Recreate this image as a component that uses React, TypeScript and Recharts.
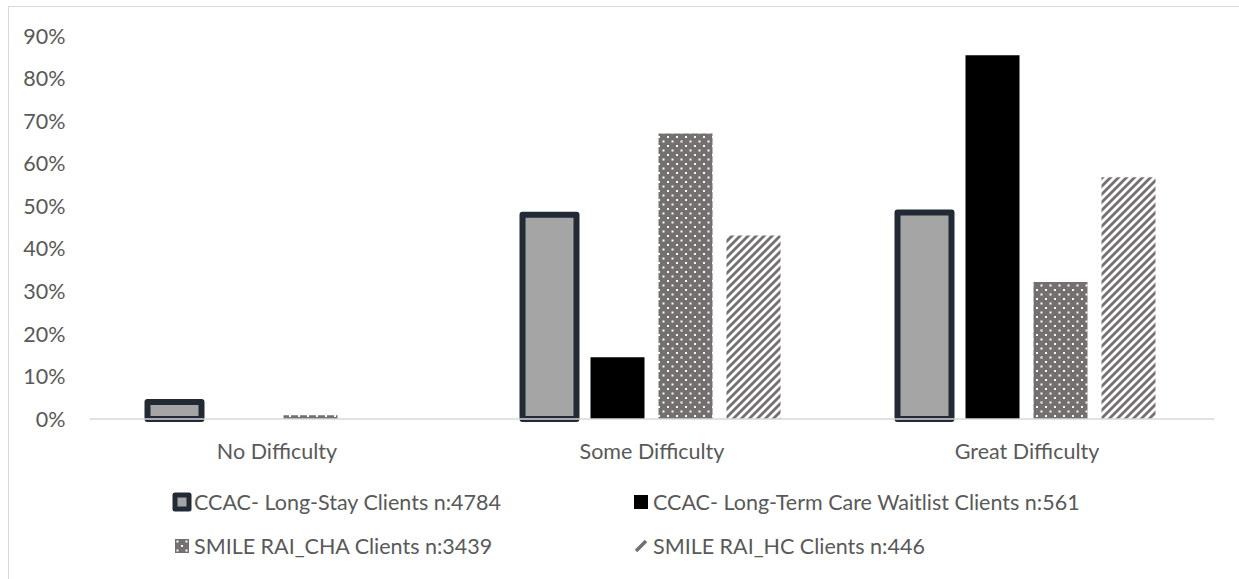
import React from 'react';
import { BarChart, Bar, XAxis, YAxis, Legend } from 'recharts';

const categories = ['No Difficulty', 'Some Difficulty', 'Great Difficulty'];
const longStay = [4.0, 48.0, 48.5];
const ltcWaitlist = [0, 14.5, 85.5];
const smileCha = [0.9, 67.1, 32.2];
const smileHc = [0, 43.1, 56.8];
const seriesKeys = ['longStay', 'ltcWaitlist', 'smileCha', 'smileHc'];
const seriesNames = [
  'CCAC- Long-Stay Clients n:4784',
  'CCAC- Long-Term Care Waitlist Clients n:561',
  'SMILE RAI_CHA Clients n:3439',
  'SMILE RAI_HC Clients n:446',
];
const yTicks = [0, 10, 20, 30, 40, 50, 60, 70, 80, 90];

const data = categories.map((c, i) => ({
  category: c,
  longStay: longStay[i],
  ltcWaitlist: ltcWaitlist[i],
  smileCha: smileCha[i],
  smileHc: smileHc[i],
}));

const FONT = 'Lato, "Open Sans", sans-serif';
const TEXT = '#595959';
const FS = 21.5;

function Patterns({ prefix }: { prefix: string }) {
  return (
    <defs>
      <pattern id={`${prefix}dots`} patternUnits="userSpaceOnUse" width="9" height="9">
        <rect x="0" y="0" width="9" height="9" fill="#757070" />
        <rect x="1" y="1" width="2" height="2" fill="#ffffff" />
        <rect x="5.5" y="5.5" width="2" height="2" fill="#ffffff" />
      </pattern>
      <pattern id={`${prefix}stripes`} patternUnits="userSpaceOnUse" width="8" height="8">
        <rect x="0" y="0" width="8" height="8" fill="#ffffff" />
        <path d="M-2,2 L2,-2 M0,8 L8,0 M6,10 L10,6" stroke="#757070" strokeWidth="2.8" />
      </pattern>
    </defs>
  );
}

function LegendIcon({ idx }: { idx: number }) {
  if (idx === 0) {
    return (
      <svg width="22" height="22" style={{ display: 'block' }}>
        <rect x="4" y="4" width="14" height="14" fill="#a5a5a5" stroke="#222a35" strokeWidth="5" strokeLinejoin="round" />
      </svg>
    );
  }
  if (idx === 1) {
    return (
      <svg width="22" height="22" style={{ display: 'block' }}>
        <rect x="4" y="4" width="14" height="14" fill="#000000" />
      </svg>
    );
  }
  if (idx === 2) {
    return (
      <svg width="22" height="22" style={{ display: 'block' }}>
        <Patterns prefix="lg" />
        <rect x="4" y="4" width="14" height="14" fill="url(#lgdots)" />
      </svg>
    );
  }
  return (
    <svg width="22" height="22" style={{ display: 'block' }}>
      <path d="M6,16 L16,6" stroke="#757070" strokeWidth="3.5" />
    </svg>
  );
}

function LegendContent() {
  const cols = [171, 630];
  const rows = [0, 44];
  return (
    <div style={{ position: 'relative', width: 1239, height: 80, fontFamily: FONT, fontSize: FS, color: TEXT }}>
      {seriesNames.map((name, i) => (
        <div
          key={name}
          style={{
            position: 'absolute',
            left: cols[i % 2],
            top: rows[Math.floor(i / 2)],
            display: 'flex',
            alignItems: 'center',
            height: 30,
            whiteSpace: 'nowrap',
          }}
        >
          <LegendIcon idx={i} />
          <span style={{ marginLeft: 1 }}>{name}</span>
        </div>
      ))}
    </div>
  );
}

export default function App() {
  return (
    <div style={{ position: 'absolute', left: 0, top: 0, width: 1239, height: 579, overflow: 'hidden', background: '#fff' }}>
      <div style={{ position: 'absolute', left: 8, top: 6, width: 1400, height: 800, border: '1px solid #d9d9d9', boxSizing: 'border-box' }} />
      <div style={{ position: 'absolute', left: 0, top: 0 }}>
        <BarChart
          width={1239}
          height={579}
          data={data}
          margin={{ top: 36, right: 24.5, bottom: 100, left: 29.5 }}
          barCategoryGap={58}
          barGap={14}
        >
          <Patterns prefix="ch" />
          <YAxis
            width={60}
            domain={[0, 90]}
            ticks={yTicks}
            tickFormatter={(v: number) => `${v}%`}
            axisLine={false}
            tickLine={false}
            tickSize={0}
            tickMargin={24}
            tick={{ fill: TEXT, fontSize: FS, fontFamily: FONT }}
            interval={0}
          />
          <XAxis
            dataKey="category"
            height={60}
            axisLine={{ stroke: '#d9d9d9', strokeWidth: 1.5 }}
            tickLine={false}
            tickSize={0}
            tickMargin={25}
            tick={{ fill: TEXT, fontSize: FS, fontFamily: FONT }}
            interval={0}
          />
          <Legend
            layout="horizontal"
            verticalAlign="middle"
            align="center"
            wrapperStyle={{ left: 0, top: 487, width: 1239, height: 80 }}
            content={() => <LegendContent />}
          />
          <Bar dataKey={seriesKeys[0]} name={seriesNames[0]} fill="#a5a5a5" stroke="#222a35" strokeWidth={6} strokeLinejoin="round" isAnimationActive={false} />
          <Bar dataKey={seriesKeys[1]} name={seriesNames[1]} fill="#000000" isAnimationActive={false} />
          <Bar dataKey={seriesKeys[2]} name={seriesNames[2]} fill="url(#chdots)" isAnimationActive={false} />
          <Bar dataKey={seriesKeys[3]} name={seriesNames[3]} fill="url(#chstripes)" isAnimationActive={false} />
        </BarChart>
      </div>
    </div>
  );
}
